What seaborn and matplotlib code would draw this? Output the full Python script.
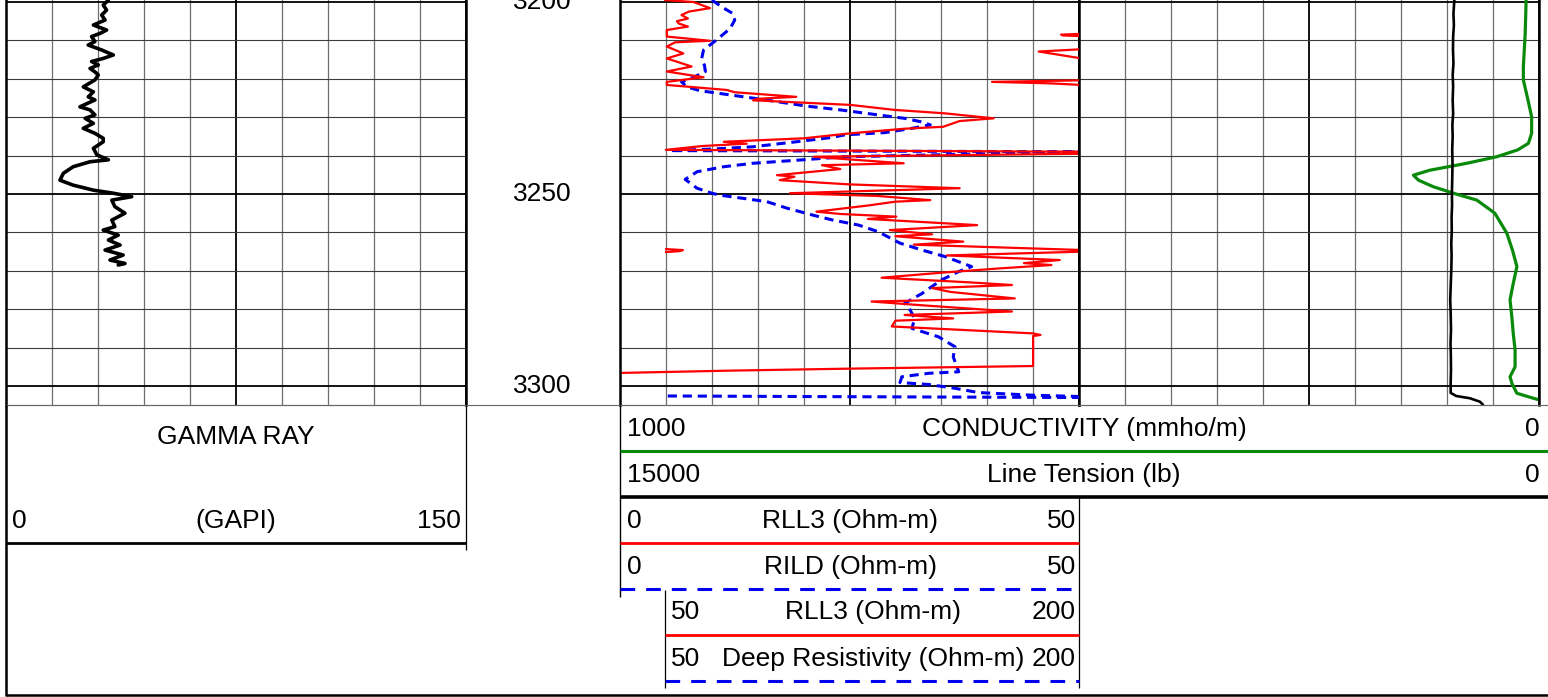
import numpy as np
import pandas as pd
import matplotlib
matplotlib.use("Agg")
import matplotlib.pyplot as plt
import seaborn as sns

# ---------------------------------------------------------------- data
depth_labels = [3200, 3250, 3300]
depth_top, depth_bottom = 3199.48, 3304.95

gr_scale = (0, 150)
gr_depth = [3199.5, 3200.8, 3202.1, 3203.4, 3204.7, 3206.0, 3207.3, 3208.2, 3209.0, 3210.3,
            3211.2, 3212.5, 3213.8, 3214.7, 3215.5, 3216.4, 3217.3, 3218.2, 3219.0, 3220.3,
            3222.1, 3223.4, 3224.7, 3225.5, 3227.3, 3228.1, 3229.4, 3230.3, 3231.6, 3232.9,
            3234.2, 3235.5, 3236.4, 3238.1, 3239.8, 3241.1, 3241.6, 3242.9, 3244.6, 3246.4,
            3247.7, 3249.0, 3249.8, 3250.7, 3251.6, 3253.3, 3255.0, 3256.8, 3258.5, 3259.4,
            3260.7, 3262.0, 3263.3, 3264.6, 3265.9, 3267.2, 3268.1, 3268.5]
gr_value = [33.4, 31.7, 32.8, 31.2, 32.3, 28.5, 32.8, 30.6, 27.9, 29.0,
            26.8, 31.2, 35.0, 31.7, 27.9, 30.1, 27.4, 29.0, 30.1, 29.0,
            25.2, 28.5, 26.8, 29.0, 24.1, 27.4, 29.0, 25.8, 28.5, 25.2,
            29.0, 31.7, 31.7, 28.5, 29.6, 33.4, 27.4, 21.9, 18.7, 17.6,
            21.9, 28.5, 35.0, 41.0, 34.5, 35.5, 38.8, 34.5, 35.5, 31.7,
            36.6, 33.4, 37.2, 32.3, 38.2, 33.9, 38.8, 36.6]

res_scale = (0, 50)
res_backup_scale = (50, 200)
rll3_depth = [3199.5, 3200.0, 3201.6, 3202.5, 3203.4, 3204.3, 3205.0, 3205.6, 3206.4, 3207.3,
              3209.0, 3210.1, 3210.5, 3211.6, 3213.4, 3214.7, 3216.8, 3218.1, 3219.6, 3220.8,
              3221.6, 3222.9, 3223.5, 3224.7, 3225.2, 3225.6, 3226.8, 3228.1, 3229.0, 3230.3,
              3231.0, 3232.5, 3233.0, 3234.2, 3235.5, 3236.4, 3236.9, 3237.5, 3238.5, 3239.0,
              3239.5, 3240.3, 3241.0, 3242.0, 3242.5, 3243.5, 3245.1, 3245.5, 3246.4, 3247.5,
              3248.5, 3249.8, 3250.5, 3251.6, 3252.0, 3253.0, 3254.6, 3255.2, 3255.9, 3256.5,
              3258.1, 3259.4, 3260.5, 3261.0, 3262.4, 3263.2, 3264.6, 3265.0, 3266.0, 3267.2,
              3268.0, 3268.5, 3269.4, 3270.5, 3271.8, 3273.0, 3273.7, 3274.5, 3275.5, 3277.2,
              3278.0, 3279.0, 3280.6, 3281.5, 3282.4, 3283.0, 3284.5, 3286.3, 3286.7, 3287.0,
              3294.8, 3295.5, 3296.0, 3296.6]
rll3_value = [4.9, 8.0, 9.8, 7.5, 6.7, 7.4, 6.2, 6.4, 7.4, 5.1,
              5.1, 9.8, 6.0, 5.1, 6.9, 5.1, 7.8, 5.1, 9.1, 5.1,
              5.1, 11.6, 12.5, 19.2, 15.0, 14.5, 25.1, 29.9, 35.4, 40.7,
              37.0, 35.2, 31.0, 25.1, 20.0, 11.3, 13.8, 9.0, 5.0, 51.0,
              51.0, 21.1, 25.0, 30.9, 22.0, 24.0, 17.1, 19.0, 17.4, 25.0,
              37.0, 18.5, 28.0, 33.8, 30.0, 27.0, 21.4, 24.0, 30.1, 27.0,
              38.9, 29.4, 34.0, 30.0, 37.4, 32.0, 50.5, 50.5, 35.6, 47.9,
              44.0, 47.0, 41.2, 35.0, 28.5, 38.0, 42.7, 34.0, 36.0, 43.0,
              27.4, 33.0, 42.7, 31.0, 36.3, 30.0, 29.6, 45.0, 45.8, 45.0,
              45.0, 24.5, 12.0, 0.0]

rild_depth = [3199.5, 3201.6, 3203.0, 3204.7, 3206.9, 3209.9, 3212.5, 3214.7, 3216.5, 3218.1,
              3219.6, 3220.8, 3222.1, 3223.1, 3224.2, 3225.3, 3227.1, 3228.1, 3229.4, 3230.3,
              3231.2, 3232.0, 3232.9, 3234.0, 3234.6, 3235.3, 3236.4, 3237.7, 3238.3, 3238.7,
              3239.0, 3240.3, 3241.1, 3242.0, 3242.9, 3244.2, 3246.2, 3248.5, 3249.8, 3250.3,
              3252.0, 3253.7, 3255.5, 3256.8, 3258.1, 3259.8, 3262.8, 3264.6, 3266.3, 3268.9,
              3270.2, 3272.4, 3275.9, 3278.5, 3280.2, 3282.4, 3285.0, 3287.2, 3289.8, 3292.4,
              3296.3, 3296.7, 3297.6, 3299.1, 3299.6, 3300.6, 3301.7, 3302.4, 3302.8]
rild_value = [10.0, 11.3, 12.3, 12.5, 12.0, 10.5, 9.1, 8.9, 9.2, 9.3,
              8.0, 6.7, 7.3, 8.7, 12.0, 15.3, 20.3, 24.0, 28.1, 31.0,
              32.8, 33.8, 31.8, 28.9, 24.5, 23.0, 19.2, 14.5, 10.0, 5.4,
              50.5, 24.5, 19.9, 14.5, 11.3, 8.4, 7.1, 8.4, 10.0, 10.9,
              16.0, 18.2, 21.0, 23.2, 26.0, 28.1, 30.5, 32.9, 35.4, 38.3,
              36.9, 35.0, 32.9, 31.0, 31.6, 32.1, 31.8, 34.7, 36.5, 36.3,
              36.9, 33.6, 30.7, 30.5, 33.6, 36.5, 39.0, 45.0, 51.0]

rll3_bk_seg = [1, 1, 1, 1, 2, 2, 2, 3, 3, 3, 3, 4, 4, 4, 4]
rll3_bk_depth = [3208.3, 3208.5, 3208.7, 3208.9, 3212.3, 3212.9, 3214.7,
                 3220.4, 3220.8, 3221.2, 3221.6, 3264.3, 3264.6, 3264.9, 3265.2]
rll3_bk_value = [201, 193.5, 194, 201, 201, 185.4, 201,
                 201, 168.5, 190, 201, 49, 56.5, 55, 49]

deep_bk_depth = [3302.6, 3302.8, 3303.0]
deep_bk_value = [51, 120, 201]

cond_scale = (1000, 0)
cond_depth = [3199.5, 3208.2, 3216.8, 3220.3, 3225.5, 3229.9, 3234.2, 3236.8, 3238.5, 3240.3,
              3242.0, 3243.8, 3245.1, 3246.4, 3248.1, 3249.8, 3251.6, 3255.0, 3260.2, 3264.5,
              3268.9, 3273.3, 3277.6, 3282.0, 3286.3, 3290.6, 3295.0, 3297.6, 3299.3, 3301.9,
              3303.2, 3303.6]
cond_value = [28, 30, 34, 34, 24, 16, 16, 23, 46, 92,
              157, 237, 273, 262, 230, 186, 135, 96, 70, 58,
              48, 56, 63, 59, 56, 52, 52, 63, 59, 48,
              12, 0]

tens_scale = (15000, 0)
tens_depth = [3199.5, 3203, 3206, 3209, 3212.5, 3216, 3219, 3222, 3225.5, 3229,
              3232, 3235, 3238.5, 3242, 3246.4, 3249.7, 3253, 3256, 3259.4, 3263,
              3266, 3269.8, 3273, 3277.6, 3281, 3285.4, 3289, 3292, 3295.8, 3299,
              3301.8, 3302.6, 3303.2, 3304.1, 3304.9]
tens_value = [2760, 2790, 2775, 2800, 2805, 2790, 2815, 2800, 2815, 2800,
              2825, 2815, 2830, 2820, 2830, 2840, 2835, 2850, 2845, 2860,
              2850, 2860, 2875, 2895, 2880, 2870, 2885, 2875, 2870, 2880,
              2880, 2700, 2250, 1924, 1826]

gr_header = ("GAMMA RAY", "(GAPI)")
curve_headers = [
    ("1000", "CONDUCTIVITY (mmho/m)", "0"),
    ("15000", "Line Tension (lb)", "0"),
    ("0", "RLL3 (Ohm-m)", "50"),
    ("0", "RILD (Ohm-m)", "50"),
    ("50", "RLL3 (Ohm-m)", "200"),
    ("50", "Deep Resistivity (Ohm-m)", "200"),
]

# ---------------------------------------------------------------- style
sns.set_style("white")
plt.rcParams["font.family"] = ["Liberation Sans", "DejaVu Sans"]
plt.rcParams["text.color"] = "black"
FS = 19
RED = "#ff0000"
BLUE = "#0000ee"
GREEN = "#0a8a0a"

W, H = 1548, 697
fig = plt.figure(figsize=(W / 100, H / 100), dpi=100)


def rect(x0, x1, y0, y1):
    return [x0 / W, 1 - y1 / H, (x1 - x0) / W, (y1 - y0) / H]


ax_gr = fig.add_axes(rect(6, 466, 0, 405))
ax_dp = fig.add_axes(rect(466, 620, 0, 405), sharey=ax_gr)
ax_rs = fig.add_axes(rect(620, 1079, 0, 405), sharey=ax_gr)
ax_cd = fig.add_axes(rect(1079, 1539, 0, 405), sharey=ax_gr)
ax_rb = fig.add_axes(rect(665, 1079, 0, 405), sharey=ax_gr)
ax_tn = ax_cd.twiny()


def style_track(ax, xlim):
    x0, x1 = xlim
    step = (x1 - x0) / 10
    ax.set_xlim(x0, x1)
    ax.set_xticks([x0, x0 + 5 * step, x1])
    ax.set_xticks([x0 + i * step for i in range(1, 10) if i != 5], minor=True)
    ax.set_yticks(depth_labels)
    ax.set_yticks([d for d in range(3210, 3305, 10) if d not in depth_labels], minor=True)
    ax.set_axisbelow(True)
    ax.grid(which="major", axis="both", color="black", lw=1.3)
    ax.grid(which="minor", axis="x", color="#6e6e6e", lw=0.9)
    ax.grid(which="minor", axis="y", color="#3c3c3c", lw=0.8)
    ax.tick_params(which="both", length=0, labelbottom=False, labelleft=False,
                   labeltop=False, labelright=False)
    for s in ("left", "right"):
        ax.spines[s].set_color("black")
        ax.spines[s].set_linewidth(1.8)
    ax.spines["top"].set_visible(False)
    ax.spines["bottom"].set_color("#777777")
    ax.spines["bottom"].set_linewidth(0.8)
    ax.set_xlabel("")
    ax.set_ylabel("")


def curve(ax, depth, value, color, lw, ls="-", units=None):
    df = pd.DataFrame({"depth": depth, "value": value})
    kw = {}
    if units is not None:
        df["seg"] = units
        kw["units"] = "seg"
    sns.lineplot(data=df, x="value", y="depth", orient="y", sort=False,
                 estimator=None, ax=ax, color=color, lw=lw, linestyle=ls,
                 legend=False, **kw)


curve(ax_gr, gr_depth, gr_value, "black", 2.6)
curve(ax_rs, rild_depth, rild_value, BLUE, 2.2, (0, (3.0, 1.9)))
curve(ax_rs, rll3_depth, rll3_value, RED, 1.6)
curve(ax_rb, rll3_bk_depth, rll3_bk_value, RED, 1.6, units=rll3_bk_seg)
curve(ax_rb, deep_bk_depth, deep_bk_value, BLUE, 2.2, (0, (3.0, 1.9)))
curve(ax_cd, cond_depth, cond_value, GREEN, 2.3)
curve(ax_tn, tens_depth, tens_value, "black", 1.9)

style_track(ax_gr, gr_scale)
style_track(ax_rs, res_scale)
style_track(ax_cd, cond_scale)

ax_rb.set_xlim(*res_backup_scale)
ax_rb.axis("off")
ax_rb.patch.set_visible(False)
ax_tn.set_xlim(*tens_scale)
ax_tn.axis("off")
ax_tn.grid(False)

ax_dp.axis("off")
ax_dp.set_ylim(depth_bottom, depth_top)
for d in depth_labels:
    ax_dp.text(0.685, d, str(d), transform=ax_dp.get_yaxis_transform(),
               ha="right", va="center", fontsize=FS)

# ---------------------------------------------------------------- header
hdr = fig.add_axes([0, 0, 1, 1])
hdr.set_xlim(0, W)
hdr.set_ylim(H, 0)
hdr.axis("off")
hdr.patch.set_visible(False)


def hl(y, x0, x1, **kw):
    hdr.plot([x0, x1], [y, y], solid_capstyle="butt", dash_capstyle="butt", **kw)


def vl(x, y0, y1, **kw):
    hdr.plot([x, x], [y0, y1], solid_capstyle="butt", **kw)


hl(405, 6, 1548, color="#666666", lw=0.8)
vl(6, 405, 696, color="black", lw=1.8)
hl(695, 6, 1548, color="black", lw=1.8)
vl(466, 405, 550, color="black", lw=0.9)
hl(543, 6, 466, color="black", lw=2.0)
vl(620, 405, 597, color="black", lw=1.0)
vl(665, 590, 688, color="black", lw=0.9)
vl(1079, 497, 688, color="black", lw=0.9)

hl(451, 620, 1548, color=GREEN, lw=2.2)
hl(497, 620, 1548, color="black", lw=2.6)
hl(543, 620, 1079, color=RED, lw=2.0)
hl(589, 620, 1079, color=BLUE, lw=2.2, linestyle=(0, (4.8, 3.6)))
hl(635, 665, 1079, color=RED, lw=2.0)
hl(681, 665, 1079, color=BLUE, lw=2.2, linestyle=(0, (4.8, 3.6)))

hdr.text(236, 437, gr_header[0], ha="center", va="center", fontsize=FS)
hdr.text(12, 521, str(gr_scale[0]), ha="left", va="center", fontsize=FS)
hdr.text(236, 521, gr_header[1], ha="center", va="center", fontsize=FS)
hdr.text(461, 521, str(gr_scale[1]), ha="right", va="center", fontsize=FS)

row_y = [429, 475, 521, 567, 612, 659]
row_x = [(627, 1084, 1540), (627, 1084, 1540), (627, 850, 1076),
         (627, 850, 1076), (671, 873, 1076), (671, 873, 1076)]
for (left, title, right), y, (xl, xc, xr) in zip(curve_headers, row_y, row_x):
    hdr.text(xl, y, left, ha="left", va="center", fontsize=FS)
    hdr.text(xc, y, title, ha="center", va="center", fontsize=FS)
    hdr.text(xr, y, right, ha="right", va="center", fontsize=FS)

for ax in (ax_gr, ax_dp, ax_rs, ax_cd, ax_rb, ax_tn):
    ax.set_ylim(depth_bottom, depth_top)

fig.savefig("out.png", dpi=100)
